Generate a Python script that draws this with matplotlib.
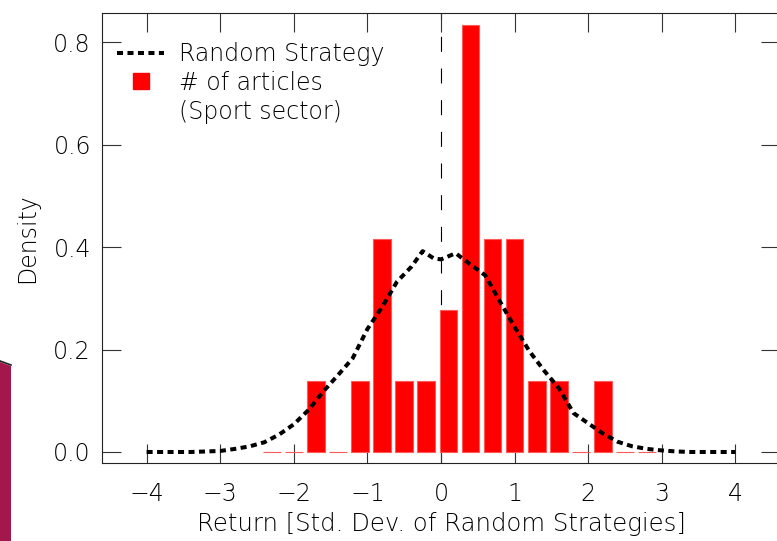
import numpy as np
import matplotlib
matplotlib.use("Agg")
import matplotlib.pyplot as plt
from matplotlib.lines import Line2D
from matplotlib.patches import Polygon

plt.rcParams['font.family'] = ['DejaVu Sans']
plt.rcParams['font.weight'] = 'light'
plt.rcParams['axes.labelweight'] = 'light'

# histogram of articles (bin width 0.3, 24 articles)
bin_centers = [-2.3, -2.0, -1.7, -1.4, -1.1, -0.8, -0.5, -0.2, 0.1, 0.4,
               0.7, 1.0, 1.3, 1.6, 1.9, 2.2, 2.5, 2.8]
article_counts = [0, 0, 1, 0, 1, 3, 1, 1, 2, 6, 3, 3, 1, 1, 0, 1, 0, 0]
bin_width = 0.3

# density of the random strategies
rand_x = [-4.0, -3.8, -3.6, -3.4, -3.2, -3.0, -2.8, -2.6, -2.4, -2.2, -2.0,
          -1.8, -1.6, -1.4, -1.2, -1.0, -0.8, -0.6, -0.4, -0.25, -0.1, 0.0,
          0.2, 0.4, 0.6, 0.8, 1.0, 1.2, 1.4, 1.6, 1.8, 2.0, 2.2, 2.4, 2.6,
          2.8, 3.0, 3.2, 3.4, 3.6, 3.8, 4.0]
rand_density = [0.0, 0.0, 0.0, 0.0, 0.001, 0.002, 0.006, 0.011, 0.019, 0.034,
                0.054, 0.082, 0.118, 0.150, 0.183, 0.240, 0.283, 0.332, 0.362,
                0.392, 0.378, 0.376, 0.388, 0.366, 0.345, 0.294, 0.244, 0.197,
                0.159, 0.125, 0.076, 0.056, 0.036, 0.020, 0.011, 0.006, 0.003,
                0.001, 0.0, 0.0, 0.0, 0.0]

x_ticks = [-4, -3, -2, -1, 0, 1, 2, 3, 4]
y_ticks = [0.0, 0.2, 0.4, 0.6, 0.8]

counts = np.array(article_counts, dtype=float)
bar_density = counts / (counts.sum() * bin_width)

FS = 17

fig = plt.figure(figsize=(7.77, 5.41), dpi=100)

# slide decoration at the left edge
deco = Polygon([(0, 0), (0, 1 - 362 / 541), (11 / 777, 1 - 366 / 541), (11 / 777, 0)],
               closed=True, transform=fig.transFigure, facecolor='#a3174d',
               edgecolor='none', zorder=0)
fig.patches.append(deco)
fig.lines.append(Line2D([0, 11 / 777], [1 - 361 / 541, 1 - 365 / 541],
                        transform=fig.transFigure, color='#222222', lw=1.2))

ax = fig.add_axes([102 / 777, 78 / 541, 678 / 777, 450 / 541])

ax.bar(bin_centers, bar_density, width=0.24, color='#ff0000',
       edgecolor='#ff5a5a', linewidth=0.8, zorder=2)
rand_line, = ax.plot(rand_x, rand_density, color='black', lw=2.9,
                     linestyle=(0, (1.5, 1.1)), dash_capstyle='butt', zorder=3)
ax.axvline(0, color='black', lw=0.8, linestyle=(0, (13.5, 15)), zorder=1)

ax.set_xlim(-4.606, 4.606)
ax.set_ylim(-0.0215, 0.857)
ax.set_xticks(x_ticks)
ax.set_yticks(y_ticks)
ax.set_yticklabels(['%.1f' % v for v in y_ticks])
ax.tick_params(direction='in', length=14, width=0.8, color='#333333',
               labelsize=FS, top=True, right=True, pad=8)
ax.tick_params(axis='x', pad=14)
for sp in ax.spines.values():
    sp.set_linewidth(0.8)
    sp.set_color('#222222')

ax.set_xlabel('Return [Std. Dev. of Random Strategies]', fontsize=17.6, labelpad=4)
ax.set_ylabel('Density', fontsize=FS, labelpad=10)

square = Line2D([], [], linestyle='none', marker='s', markersize=12.2,
                color='#ff0000')
blank = Line2D([], [], linestyle='none')
ax.legend([rand_line, square, blank],
          ['Random Strategy', '# of articles', '(Sport sector)'],
          loc='upper left', bbox_to_anchor=(0.022, 0.936), frameon=False,
          fontsize=FS, handlelength=2.0, handletextpad=0.64, borderpad=0,
          borderaxespad=0, labelspacing=0.21)

fig.savefig('out.png', dpi=100)
